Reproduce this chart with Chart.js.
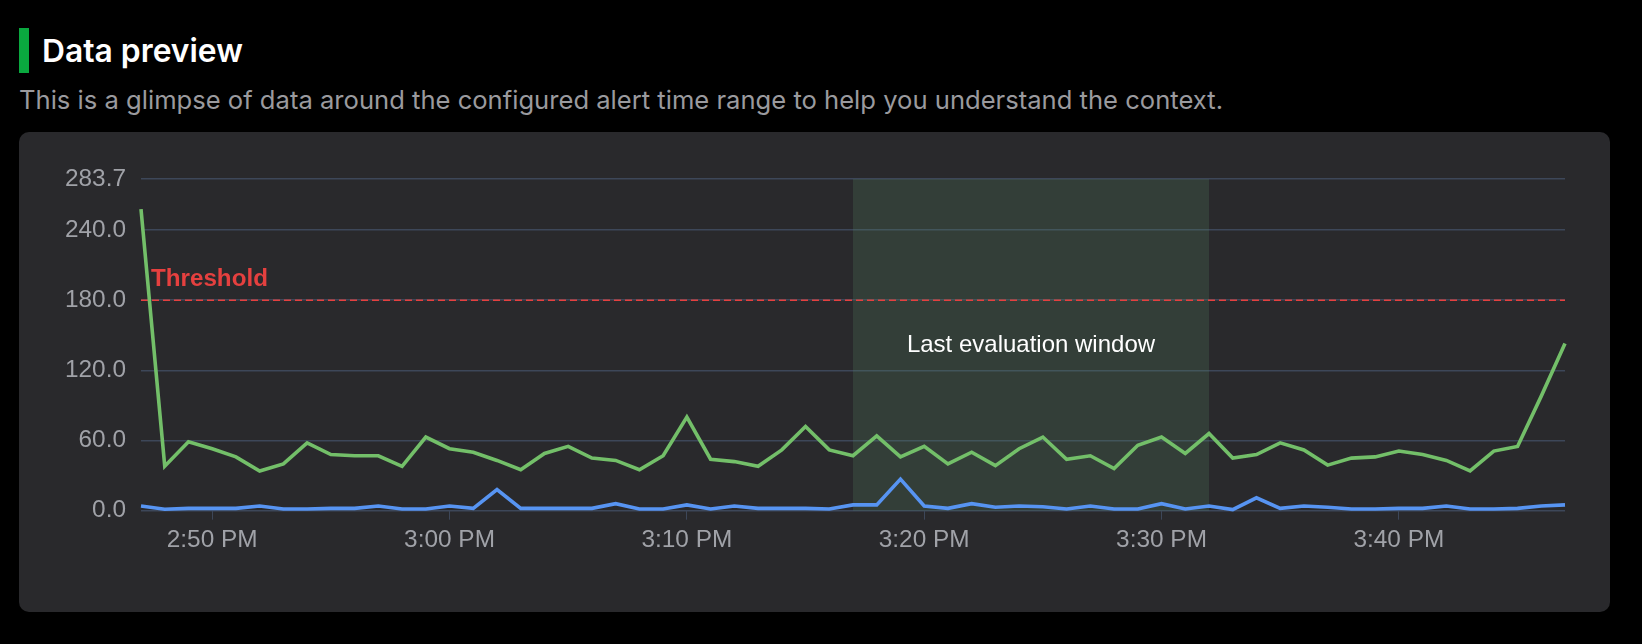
<!DOCTYPE html>
<html><head><meta charset="utf-8">
<script src="https://cdn.jsdelivr.net/npm/chart.js@4"></script>
<style>
html,body{margin:0;padding:0;background:#000;width:1642px;height:644px;overflow:hidden}
#bar{position:absolute;left:19px;top:28px;width:10px;height:45px;background:#0aa83f}
#title{position:absolute;left:42px;top:31px;font:600 31.8px/40px Inter,sans-serif;color:#fff;white-space:nowrap}
#sub{position:absolute;left:19px;top:84px;font:400 25.6px/32px Inter,sans-serif;color:#9a9a9e;white-space:nowrap}
#card{position:absolute;left:19px;top:132px;width:1591px;height:480px;background:#29292c;border-radius:10px}
canvas{position:absolute;left:0;top:0}
</style></head><body>
<div id="bar"></div>
<div id="title">Data preview</div>
<div id="sub">This is a glimpse of data around the configured alert time range to help you understand the context.</div>
<div id="card"></div>
<canvas id="c" width="1642" height="644"></canvas>
<script>
// minutes since midnight, 2:47 PM to 3:47 PM
const minutes=[887,888,889,890,891,892,893,894,895,896,897,898,899,900,901,902,903,904,905,906,907,908,909,910,911,912,913,914,915,916,917,918,919,920,921,922,923,924,925,926,927,928,929,930,931,932,933,934,935,936,937,938,939,940,941,942,943,944,945,946,947];
const greenValues=[258,38,59,53,46,34,40,58,48,47,47,38,63,53,50,43,35,49,55,45,43,35,47,80,44,42,38,52,72,52,47,64,46,55,40,50,38.5,53,63,44,47,36,56,63,49,66,45,48,58,52,39,45,46,51,48,43,34,51,55,98,143];
const blueValues=[4,1.3,2,2,2,4,1.5,1.5,2,2,4,1.5,1.5,4,2,18,2,2,2,2,6,1.5,1.5,5,1.5,4,2,2,2,1.5,5,5,27,4,2,6,3,4,3.4,1.5,4,1.5,1.5,6,1.5,4,1,11,2,4,3,1.5,1.5,2,2,4,1.5,1.5,2,4,5];
const xTickValues=[890,900,910,920,930,940];
const yTickValues=[0,60,120,180,240,283.7];
const thresholdValue=180;
const windowStart=917, windowEnd=932;
const thresholdLabel='Threshold', windowLabel='Last evaluation window';
const fmt=m=>{const h=Math.floor(m/60)%12||12;const mm=String(m%60).padStart(2,'0');return h+':'+mm+' '+(m>=720?'PM':'AM');};
const band={id:'band',
 beforeDatasetsDraw(ch){const {ctx,scales:{x,y}}=ch;const l=x.getPixelForValue(windowStart),r=x.getPixelForValue(windowEnd),t=y.getPixelForValue(283.7),b=y.getPixelForValue(0);
  ctx.save();ctx.fillStyle='rgba(88,138,98,0.22)';ctx.fillRect(l,t,r-l,b-t);ctx.restore();},
 afterDatasetsDraw(ch){const {ctx,scales:{x,y}}=ch;ctx.save();
  ctx.font='bold 24.2px "Liberation Sans"';ctx.fillStyle='#e5403f';ctx.textBaseline='bottom';ctx.textAlign='left';
  ctx.fillText(thresholdLabel,x.left+10,y.getPixelForValue(thresholdValue)-9);
  ctx.font='24px "Liberation Sans"';ctx.fillStyle='#fff';ctx.textAlign='center';ctx.textBaseline='middle';
  ctx.fillText(windowLabel,(x.getPixelForValue(windowStart)+x.getPixelForValue(windowEnd))/2,y.getPixelForValue(141.5));
  ctx.restore();}};
new Chart(document.getElementById('c'),{type:'line',
 data:{datasets:[
  {data:minutes.map((m,i)=>({x:m,y:greenValues[i]})),borderColor:'#73bf69',borderWidth:3.6,pointRadius:0,tension:0,clip:false},
  {data:minutes.map((m,i)=>({x:m,y:blueValues[i]})),borderColor:'#5794f2',borderWidth:3.6,pointRadius:0,tension:0,clip:false},
  {data:[{x:minutes[0],y:thresholdValue},{x:minutes[minutes.length-1],y:thresholdValue}],borderColor:'#e5403f',borderWidth:1.5,borderDash:[7,4],pointRadius:0}
 ]},
 plugins:[band],
 options:{responsive:false,animation:false,events:[],
  layout:{padding:{left:50,top:179,right:77,bottom:83.3}},
  plugins:{legend:{display:false},tooltip:{enabled:false}},
  scales:{
   x:{type:'linear',min:minutes[0],max:minutes[minutes.length-1],
    afterBuildTicks(a){a.ticks=xTickValues.map(v=>({value:v}));},
    afterFit(a){a.height=50;},
    grid:{drawOnChartArea:false,drawTicks:true,tickLength:9,color:'#3d4759'},border:{display:false},
    ticks:{color:'#a0a2a8',font:{family:'"Liberation Sans"',size:24.4},maxRotation:0,autoSkip:false,padding:6,callback:v=>fmt(v)}},
   y:{min:0,max:283.7,
    afterBuildTicks(a){a.ticks=yTickValues.map(v=>({value:v}));},
    afterFit(a){a.width=91;},
    grid:{color:'#3d4759',lineWidth:1.5,drawTicks:false},border:{display:false},
    ticks:{color:'#a0a2a8',font:{family:'"Liberation Sans"',size:24.4},autoSkip:false,padding:15,callback:v=>v.toFixed(1)}}
  }}});
</script>
</body></html>
